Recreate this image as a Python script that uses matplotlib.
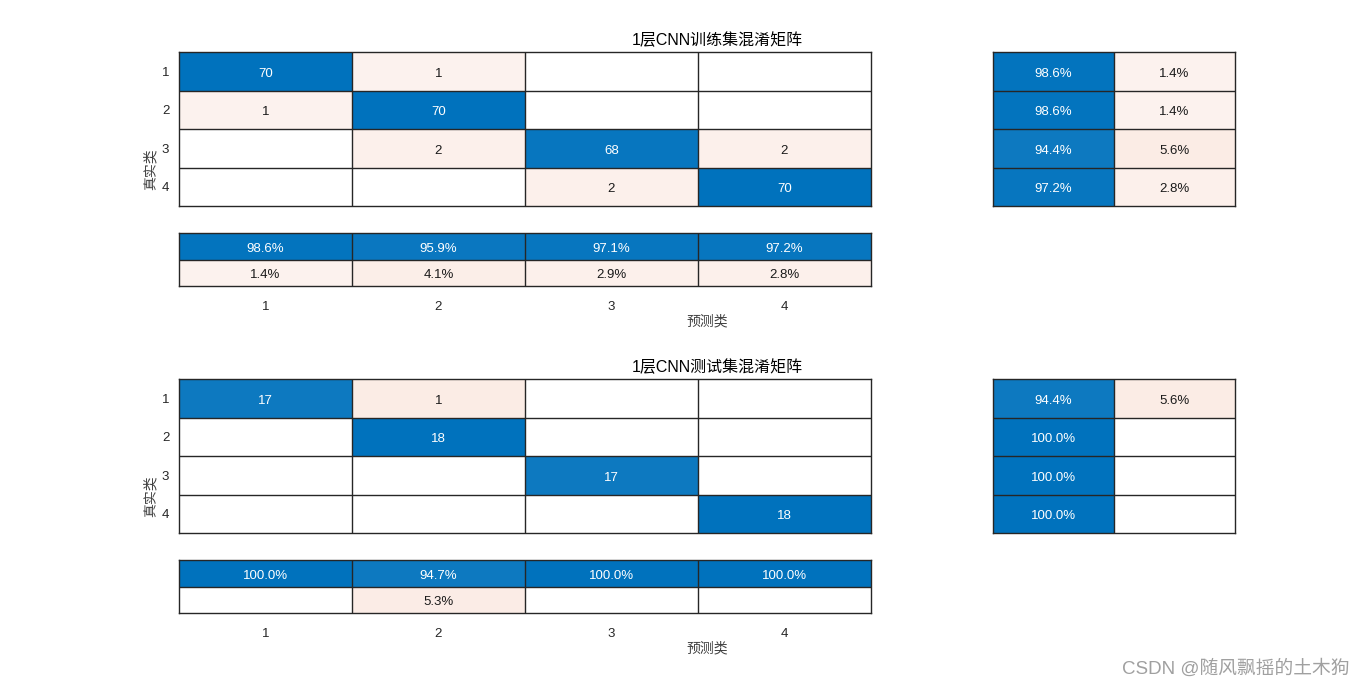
import numpy as np
import matplotlib.pyplot as plt
from matplotlib.patches import Rectangle
from matplotlib.transforms import offset_copy

plt.rcParams['font.family'] = ['Liberation Sans', 'Noto Sans CJK SC', 'DejaVu Sans']

classes = ['1', '2', '3', '4']
train_cm = np.array([[70, 1, 0, 0],
                     [1, 70, 0, 0],
                     [0, 2, 68, 2],
                     [0, 0, 2, 70]])
test_cm = np.array([[17, 1, 0, 0],
                    [0, 18, 0, 0],
                    [0, 0, 17, 0],
                    [0, 0, 0, 18]])
titles = ['1层CNN训练集混淆矩阵', '1层CNN测试集混淆矩阵']

blue = np.array([0, 114, 189]) / 255
orange = np.array([217, 83, 25]) / 255
white = np.array([1.0, 1.0, 1.0])
edge = '#262626'


def cell_color(t, diag):
    # t in 0..1, 0 -> blank
    if t <= 0:
        return white
    a = 0.06 + 0.94 * t
    base = blue if diag else orange
    return white * (1 - a) + base * a


W, H = 1366, 690
fig = plt.figure(figsize=(W / 100, H / 100), dpi=100)


def px_axes(x0, y0, x1, y1):
    return fig.add_axes([x0 / W, 1 - y1 / H, (x1 - x0) / W, (y1 - y0) / H])


def draw_grid(ax, vals, diagmask, labels, nrows, ncols):
    for i in range(nrows):
        for j in range(ncols):
            ax.add_patch(Rectangle((j, i), 1, 1, facecolor=cell_color(vals[i][j], diagmask[i][j]),
                                   edgecolor='none', lw=0))
    for k in range(1, ncols):
        ax.axvline(k, color=edge, lw=1)
    for k in range(1, nrows):
        ax.axhline(k, color=edge, lw=1)
    tr = offset_copy(ax.transData, fig=fig, y=-2.5, units='dots')
    for i in range(nrows):
        for j in range(ncols):
            if labels[i][j]:
                c = 'white' if diagmask[i][j] and vals[i][j] > 0.5 else '#1a1a1a'
                ax.text(j + 0.5, i + 0.5, labels[i][j], ha='center', va='center',
                        fontsize=9.5, color=c, family='Liberation Sans', transform=tr)
    ax.set_xlim(0, ncols)
    ax.set_ylim(nrows, 0)
    ax.set_xticks([])
    ax.set_yticks([])
    for s in ax.spines.values():
        s.set_color(edge)
        s.set_linewidth(1)


def pct(v):
    return '' if v == 0 else f'{v:.1f}%'


def draw_chart(cm, title, top):
    n = len(classes)
    mx = cm.max()
    # main matrix
    ax = px_axes(179, top, 871, top + 154)
    vals = [[cm[i, j] / mx for j in range(n)] for i in range(n)]
    diag = [[i == j for j in range(n)] for i in range(n)]
    labs = [['' if cm[i, j] == 0 else str(cm[i, j]) for j in range(n)] for i in range(n)]
    draw_grid(ax, vals, diag, labs, n, n)
    ax.set_yticks(np.arange(n) + 0.5)
    ax.set_yticklabels(classes, fontsize=9.5, color='#262626')
    ax.tick_params(axis='y', length=0, pad=7)

    # row summary
    row_ok = 100 * np.diag(cm) / cm.sum(axis=1)
    row_bad = 100 - row_ok
    axr = px_axes(993, top, 1235, top + 154)
    vals = [[row_ok[i] / 100, row_bad[i] / 100] for i in range(n)]
    diag = [[True, False] for i in range(n)]
    labs = [[pct(row_ok[i]), pct(row_bad[i])] for i in range(n)]
    draw_grid(axr, vals, diag, labs, n, 2)

    # column summary
    col_ok = 100 * np.diag(cm) / cm.sum(axis=0)
    col_bad = 100 - col_ok
    axc = px_axes(179, top + 181, 871, top + 234)
    vals = [[v / 100 for v in col_ok], [v / 100 for v in col_bad]]
    diag = [[True] * n, [False] * n]
    labs = [[pct(v) for v in col_ok], [pct(v) for v in col_bad]]
    draw_grid(axc, vals, diag, labs, 2, n)
    axc.set_xticks(np.arange(n) + 0.5)
    axc.set_xticklabels(classes, fontsize=9.5, color='#262626')
    axc.tick_params(axis='x', length=0, pad=11)

    fig.text(717 / W, 1 - (top - 12) / H, title, ha='center', va='center',
             fontsize=11.5, color='#000000')
    fig.text(707 / W, 1 - (top + 269) / H, '预测类', ha='center', va='center',
             fontsize=10, color='#404040')
    fig.text(151 / W, 1 - (top + 117) / H, '真实类', ha='center', va='center',
             rotation=90, fontsize=10, color='#404040')


draw_chart(train_cm, titles[0], 52)
draw_chart(test_cm, titles[1], 379)

fig.text(1236 / W, 1 - 669 / H, 'CSDN @随风飘摇的土木狗', ha='center', va='center',
         fontsize=13.5, color='#a0a0a0')

fig.savefig('out.png', dpi=100)
